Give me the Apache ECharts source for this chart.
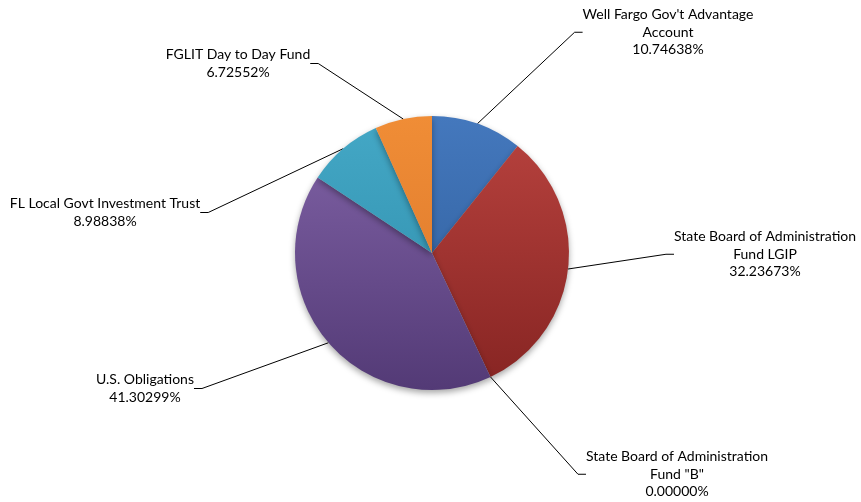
<!DOCTYPE html>
<html><head><meta charset="utf-8">
<script src="https://cdn.jsdelivr.net/npm/echarts@6/dist/echarts.min.js"></script>
<style>html,body{margin:0;padding:0;background:#fff}#c{width:861px;height:502px}</style>
</head><body><div id="c"></div>
<script>
var categories = ["Well Fargo Gov't Advantage\nAccount", "State Board of Administration\nFund LGIP", "State Board of Administration\nFund \"B\"", "U.S. Obligations", "FL Local Govt Investment Trust", "FGLIT Day to Day Fund"];
var values = [10.74638, 32.23673, 0.00000, 41.30299, 8.98838, 6.72552];

var topColors = ['#4478bd', '#b9433f', '#b9433f', '#8264a8', '#44a8c6', '#f08d36'];
var botColors = ['#2c5a96', '#862422', '#862422', '#533a76', '#2c8aa8', '#d8742a'];
var labelPos = [[668, 6], [765, 228], [677, 448], [145, 371], [105, 195], [238, 46]];

var chart = echarts.init(document.getElementById('c'), null, {renderer: 'canvas'});
var data = categories.map(function (n, i) {
  return {
    name: n, value: values[i],
    itemStyle: {
      color: new echarts.graphic.LinearGradient(0, 116, 0, 390, [
        {offset: 0, color: topColors[i]}, {offset: 1, color: botColors[i]}
      ], true)
    }
  };
});
chart.setOption({
  animation: false,
  series: [{
    type: 'pie',
    center: [432, 253],
    radius: 137,
    startAngle: 90,
    clockwise: true,
    avoidLabelOverlap: false,
    minAngle: 0,
    itemStyle: {borderWidth: 0, shadowBlur: 6, shadowColor: 'rgba(0,0,0,0.35)', shadowOffsetY: 3},
    label: {
      show: true,
      color: '#000',
      fontFamily: 'Lato',
      fontSize: 14,
      lineHeight: 17.5,
      align: 'center',
      formatter: function (p) { return p.name + '\n' + p.value.toFixed(5) + '%'; }
    },
    labelLine: {show: true, length: 20, length2: 8, lineStyle: {color: '#000', width: 1}},
    labelLayout: function (p) {
      var lp = labelPos[p.dataIndex];
      return {x: lp[0], y: lp[1], align: 'center', verticalAlign: 'top'};
    },
    data: data
  }]
});
</script></body></html>
